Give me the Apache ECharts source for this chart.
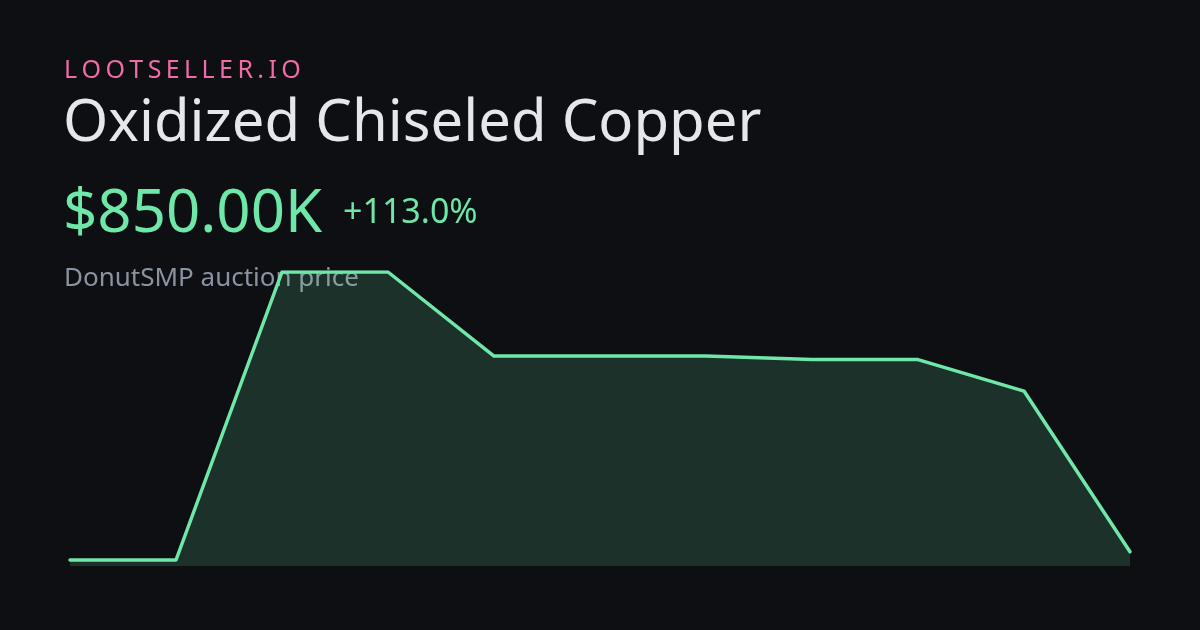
<!DOCTYPE html>
<html><head><meta charset="utf-8">
<script src="https://cdn.jsdelivr.net/npm/echarts@6/dist/echarts.min.js"></script>
<style>html,body{margin:0;padding:0;background:#0d0f12;}#c{width:1200px;height:630px;}</style>
</head><body><div id="c"></div>
<script>
// Data (prices in thousands of $)
const categories = ['1','2','3','4','5','6','7','8','9','10','11'];
const prices = [399, 399, 16050, 16050, 11480, 11480, 11480, 11290, 11290, 9580, 850];
const brand = 'LOOTSELLER.IO';
const itemName = 'Oxidized Chiseled Copper';
const priceLabel = '$850.00K';
const changeLabel = '+113.0%';
const subLabel = 'DonutSMP auction price';

const FONT = '"Noto Sans", "Open Sans", sans-serif';
const BASE = 0.8; // baseline offset from top, in em
const chart = echarts.init(document.getElementById('c'), null, {renderer: 'canvas'});

function txt(text, x, baseline, size, color) {
  return {type: 'text', x: x, y: baseline + 1 - BASE * size, z: 0,
    style: {text: text, fill: color, font: size + 'px ' + FONT, verticalAlign: 'top'}};
}
// letter-spaced brand text built from per-character text elements
function spaced(text, x, baseline, size, spacing, color) {
  const cv = document.createElement('canvas').getContext('2d');
  cv.font = size + 'px ' + FONT;
  const els = [];
  let cx = x;
  for (const ch of text) {
    els.push(txt(ch, cx, baseline, size, color));
    cx += cv.measureText(ch).width + spacing;
  }
  return els;
}

const graphics = [].concat(
  spaced(brand, 64, 77, 25, 4.4, '#f06ba8'),
  [
    txt(itemName, 63, 141, 58, '#e6e7eb'),
    txt(priceLabel, 63, 232, 60, '#6ee7a8'),
    txt(changeLabel, 343, 223, 34, '#6ee7a8'),
    txt(subLabel, 64, 285, 26, '#8b93a1')
  ]
);

chart.setOption({
  backgroundColor: '#0d0f12',
  animation: false,
  grid: {left: 70, right: 70, top: 272, bottom: 64},
  xAxis: {type: 'category', data: categories, boundaryGap: false, show: false},
  yAxis: {type: 'value', min: 73, max: 16050, show: false},
  graphic: graphics,
  series: [{
    type: 'line', data: prices, symbol: 'none', z: 5,
    lineStyle: {color: '#6ee7a8', width: 3.5, cap: 'round', join: 'round'},
    areaStyle: {color: 'rgba(110,231,168,0.16)', opacity: 1}
  }]
});
</script></body></html>
